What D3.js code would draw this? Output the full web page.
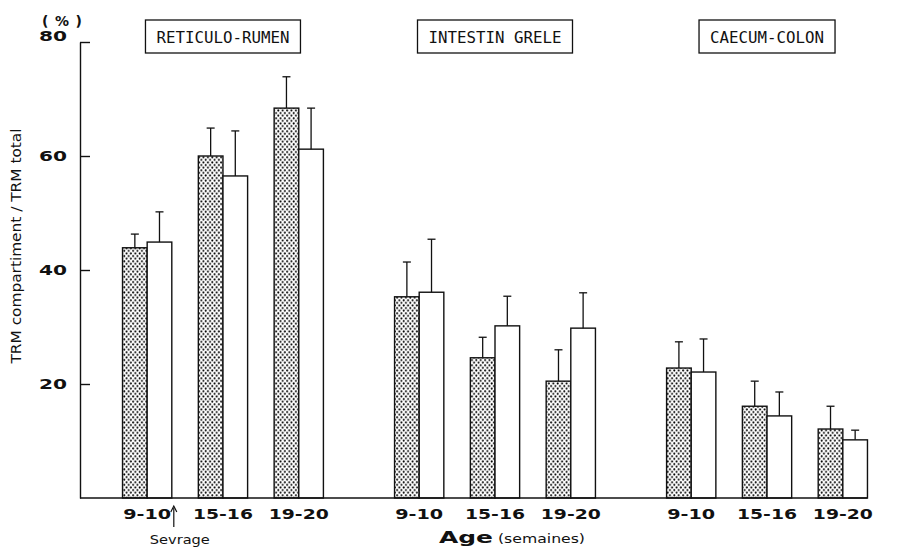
<!DOCTYPE html>
<html lang="fr">
<head>
<meta charset="UTF-8">
<title>TRM compartiment / TRM total</title>
<style>
  body { margin: 0; background: #fff; }
  svg { display: block; }
</style>
</head>
<body>
<svg id="chart" width="913" height="547"></svg>
<script src="https://cdn.jsdelivr.net/npm/d3@7"></script>
<script>
/* global d3 */

var compartments = ["RETICULO-RUMEN", "INTESTIN GRELE", "CAECUM-COLON"];
var ages = ["9-10", "15-16", "19-20"];
var yTicks = [20, 40, 60, 80];

// stippled bars: mean and sd, one row per compartment, one value per age
var dottedMean = [[43.9, 60.0, 68.4], [35.3, 24.6, 20.5], [22.8, 16.1, 12.1]];
var dottedSd   = [[2.4, 4.9, 5.5], [6.1, 3.6, 5.5], [4.6, 4.4, 4.0]];
// open bars
var openMean = [[44.9, 56.5, 61.2], [36.1, 30.2, 29.8], [22.1, 14.4, 10.2]];
var openSd   = [[5.3, 7.9, 7.2], [9.3, 5.2, 6.2], [5.8, 4.2, 1.7]];

var ink = "#111";
var svg = d3.select("#chart");

// flatten into one row per bar
var bars = [];
compartments.forEach(function(c, i) {
    ages.forEach(function(a, j) {
        bars.push({comp: c, age: a, kind: "dotted", mean: dottedMean[i][j], sd: dottedSd[i][j]});
        bars.push({comp: c, age: a, kind: "open", mean: openMean[i][j], sd: openSd[i][j]});
    });
});

var x0 = d3.scaleBand().domain(compartments).range([96, 894]).paddingInner(0.0665).paddingOuter(0);
var x1 = d3.scaleBand().domain(ages).range([0, x0.bandwidth()]).padding(0.35);
var x2 = d3.scaleBand().domain(["dotted", "open"]).range([0, x1.bandwidth()]);
var y = d3.scaleLinear().domain([0, 80]).range([498, 42]);

// stipple pattern
var pat = svg.append("defs").append("pattern")
    .attr("id", "dots")
    .attr("patternUnits", "userSpaceOnUse")
    .attr("width", 4.4).attr("height", 5.2);
pat.append("rect").attr("width", 4.4).attr("height", 5.2).attr("fill", "#fff");
pat.append("circle").attr("cx", 1.1).attr("cy", 1.3).attr("r", 1.0).attr("fill", "#000");
pat.append("circle").attr("cx", 3.3).attr("cy", 3.9).attr("r", 1.0).attr("fill", "#000");

function barX(d) { return x0(d.comp) + x1(d.age) + x2(d.kind); }

// bars
svg.append("g").selectAll("rect")
    .data(bars)
    .join("rect")
    .attr("x", barX)
    .attr("y", d => y(d.mean))
    .attr("width", x2.bandwidth())
    .attr("height", d => y(0) - y(d.mean))
    .attr("fill", d => d.kind === "dotted" ? "url(#dots)" : "#fff")
    .attr("stroke", ink)
    .attr("stroke-width", 1.4);

// error bars (upper half only)
var err = svg.append("g").attr("stroke", ink).attr("stroke-width", 1.3);
err.selectAll("line.v")
    .data(bars)
    .join("line")
    .attr("class", "v")
    .attr("x1", d => barX(d) + x2.bandwidth() / 2)
    .attr("x2", d => barX(d) + x2.bandwidth() / 2)
    .attr("y1", d => y(d.mean))
    .attr("y2", d => y(d.mean + d.sd));
err.selectAll("line.cap")
    .data(bars)
    .join("line")
    .attr("class", "cap")
    .attr("x1", d => barX(d) + x2.bandwidth() / 2 - 4)
    .attr("x2", d => barX(d) + x2.bandwidth() / 2 + 4)
    .attr("y1", d => y(d.mean + d.sd))
    .attr("y2", d => y(d.mean + d.sd));

// y axis with inward ticks
var yAxis = svg.append("g")
    .attr("transform", "translate(80,0)")
    .call(d3.axisRight(y).tickValues(yTicks).tickSize(10).tickSizeOuter(0).tickFormat(""));
yAxis.selectAll("path, line").attr("stroke", ink).attr("stroke-width", 1.4);

svg.append("g").selectAll("text")
    .data(yTicks)
    .join("text")
    .attr("x", 67)
    .attr("y", d => y(d) + (d === 80 ? -1 : 5))
    .attr("text-anchor", "end")
    .attr("font-family", "DejaVu Sans")
    .attr("font-weight", "bold")
    .attr("font-size", 14)
    .attr("fill", ink)
    .attr("textLength", d => String(d).length * 14)
    .attr("lengthAdjust", "spacingAndGlyphs")
    .text(d => d);

svg.append("text")
    .attr("x", 62).attr("y", 26)
    .attr("text-anchor", "middle")
    .attr("font-family", "DejaVu Sans")
    .attr("font-weight", "bold")
    .attr("font-size", 14)
    .attr("fill", ink)
    .attr("textLength", 40)
    .attr("lengthAdjust", "spacing")
    .text("(%)");

svg.append("text")
    .attr("transform", "translate(21,246) rotate(-90)")
    .attr("text-anchor", "middle")
    .attr("font-family", "DejaVu Sans")
    .attr("font-size", 14)
    .attr("fill", ink)
    .attr("textLength", 235)
    .attr("lengthAdjust", "spacingAndGlyphs")
    .text("TRM compartiment / TRM total");

// baseline
var lastComp = compartments[compartments.length - 1];
var lastAge = ages[ages.length - 1];
svg.append("line")
    .attr("x1", 80).attr("x2", x0(lastComp) + x1(lastAge) + x1.bandwidth())
    .attr("y1", y(0)).attr("y2", y(0))
    .attr("stroke", ink).attr("stroke-width", 1.3);

// age labels under each pair
var ageLabels = [];
compartments.forEach(c => ages.forEach(a => ageLabels.push({comp: c, age: a})));
svg.append("g").selectAll("text")
    .data(ageLabels)
    .join("text")
    .attr("x", d => x0(d.comp) + x1(d.age) + x1.bandwidth() / 2)
    .attr("y", 519)
    .attr("text-anchor", "middle")
    .attr("font-family", "DejaVu Sans")
    .attr("font-weight", "bold")
    .attr("font-size", 14)
    .attr("fill", ink)
    .attr("textLength", d => d.age.length * 12)
    .attr("lengthAdjust", "spacingAndGlyphs")
    .text(d => d.age);

// compartment boxes
var boxes = svg.append("g").selectAll("g")
    .data(compartments)
    .join("g")
    .attr("transform", d => "translate(" + (x0(d) + x0.bandwidth() / 2) + ",0)");
boxes.append("text")
    .attr("y", 43)
    .attr("text-anchor", "middle")
    .attr("font-family", "DejaVu Sans Mono")
    .attr("font-size", 16)
    .attr("fill", ink)
    .attr("textLength", d => d.length * 9.5)
    .attr("lengthAdjust", "spacingAndGlyphs")
    .text(d => d);
boxes.insert("rect", "text")
    .attr("x", d => -(d.length * 9.5) / 2 - 11)
    .attr("y", 20)
    .attr("width", d => d.length * 9.5 + 22)
    .attr("height", 33)
    .attr("fill", "#fff")
    .attr("stroke", ink)
    .attr("stroke-width", 1.3);

// weaning arrow after the first age of the first compartment
var arrowX = x0(compartments[0]) + x1(ages[0]) + x1.bandwidth() + 2;
svg.append("line")
    .attr("x1", arrowX).attr("x2", arrowX)
    .attr("y1", 527).attr("y2", 508)
    .attr("stroke", ink).attr("stroke-width", 1.2);
svg.append("path")
    .attr("d", "M" + (arrowX - 3) + ",512 L" + arrowX + ",506 L" + (arrowX + 3) + ",512")
    .attr("fill", "none").attr("stroke", ink).attr("stroke-width", 1.2);
svg.append("text")
    .attr("x", arrowX + 6).attr("y", 544)
    .attr("text-anchor", "middle")
    .attr("font-family", "DejaVu Sans")
    .attr("font-size", 13)
    .attr("fill", ink)
    .attr("textLength", 60)
    .attr("lengthAdjust", "spacingAndGlyphs")
    .text("Sevrage");

// x axis title
var xTitle = svg.append("text")
    .attr("x", 439).attr("y", 543)
    .attr("font-family", "DejaVu Sans")
    .attr("fill", ink);
xTitle.append("tspan")
    .attr("font-weight", "bold")
    .attr("font-size", 15)
    .attr("textLength", 54)
    .attr("lengthAdjust", "spacingAndGlyphs")
    .text("Age");
xTitle.append("tspan")
    .attr("dx", 5)
    .attr("font-size", 12)
    .attr("textLength", 87)
    .attr("lengthAdjust", "spacingAndGlyphs")
    .text("(semaines)");
</script>
</body>
</html>
